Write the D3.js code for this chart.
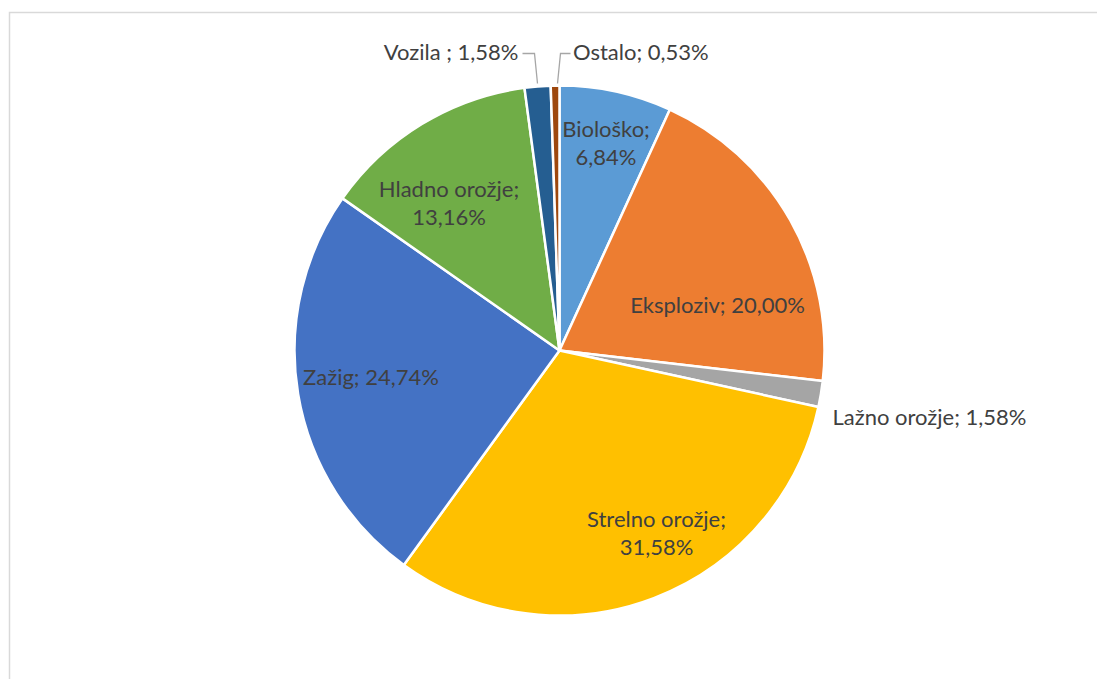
<!DOCTYPE html>
<html>
<head>
<meta charset="utf-8">
<script src="https://cdn.jsdelivr.net/npm/d3@7"></script>
<style>
  html, body { margin: 0; padding: 0; background: #fff; }
  svg { display: block; }
</style>
</head>
<body>
<svg id="chart" width="1097" height="679"></svg>
<script>
// ---- data ----
const categories = ["Biološko", "Eksploziv", "Lažno orožje", "Strelno orožje", "Zažig", "Hladno orožje", "Vozila ", "Ostalo"];
const values = [6.84, 20.00, 1.58, 31.58, 24.74, 13.16, 1.58, 0.53];
const labelTexts = [
  ["Biološko;", "6,84%"],
  ["Eksploziv; 20,00%"],
  ["Lažno orožje; 1,58%"],
  ["Strelno orožje;", "31,58%"],
  ["Zažig; 24,74%"],
  ["Hladno orožje;", "13,16%"],
  ["Vozila ; 1,58%"],
  ["Ostalo; 0,53%"]
];
const colors = ["#5B9BD5", "#ED7D31", "#A5A5A5", "#FFC000", "#4472C4", "#70AD47", "#255E91", "#9E480E"];

// ---- layout ----
const cx = 559.5, cy = 350.5, R = 265;
// label anchors relative to pie center (dx, dy of the text block centre), text-anchor
const labelLayout = [
  {dx: 46.5, dy: -207, anchor: "middle"},
  {dx: 158, dy: -45.5, anchor: "middle"},
  {dx: 273, dy: 67, anchor: "start"},
  {dx: 97, dy: 183, anchor: "middle"},
  {dx: -188.5, dy: 26.5, anchor: "middle"},
  {dx: -110.5, dy: -147, anchor: "middle"},
  {dx: -41, dy: -298, anchor: "end"},
  {dx: 13.5, dy: -298, anchor: "start"}
];
// leader lines for outside labels (index -> points relative to center)
const leaders = {
  6: [[-37, -297], [-25, -297], [-22, -267]],
  7: [[11, -297], [1, -297], [-2, -267]]
};

const svg = d3.select("#chart");

// frame
svg.append("rect")
  .attr("x", 9.5).attr("y", 12.5)
  .attr("width", 1100).attr("height", 700)
  .attr("fill", "none")
  .attr("stroke", "#D9D9D9")
  .attr("stroke-width", 1.5);

const data = categories.map((c, i) => ({name: c, value: values[i], color: colors[i], lines: labelTexts[i], lay: labelLayout[i]}));

const pie = d3.pie().sort(null).value(d => d.value);
const arc = d3.arc().innerRadius(0).outerRadius(R);

const g = svg.append("g").attr("transform", `translate(${cx},${cy})`);

g.selectAll("path.slice")
  .data(pie(data))
  .join("path")
  .attr("class", "slice")
  .attr("d", arc)
  .attr("fill", d => d.data.color)
  .attr("stroke", "#fff")
  .attr("stroke-width", 2.5)
  .attr("stroke-linejoin", "round");

// leader lines
Object.entries(leaders).forEach(([i, pts]) => {
  g.append("path")
    .attr("d", d3.line()(pts))
    .attr("fill", "none")
    .attr("stroke", "#A6A6A6")
    .attr("stroke-width", 1.3);
});

const fontSize = 22;
const lineH = 28;
const labels = g.selectAll("text.lbl")
  .data(data)
  .join("text")
  .attr("class", "lbl")
  .attr("font-family", "Lato, 'Open Sans', sans-serif")
  .attr("font-size", fontSize)
  .attr("fill", "#404040")
  .attr("text-anchor", d => d.lay.anchor)
  .attr("transform", d => `translate(${d.lay.dx},${d.lay.dy})`);

labels.each(function(d) {
  const n = d.lines.length;
  const t = d3.select(this);
  d.lines.forEach((ln, k) => {
    t.append("tspan")
      .attr("x", 0)
      .attr("y", (k - (n - 1) / 2) * lineH)
      .attr("dy", "0.35em")
      .text(ln);
  });
});
</script>
</body>
</html>
